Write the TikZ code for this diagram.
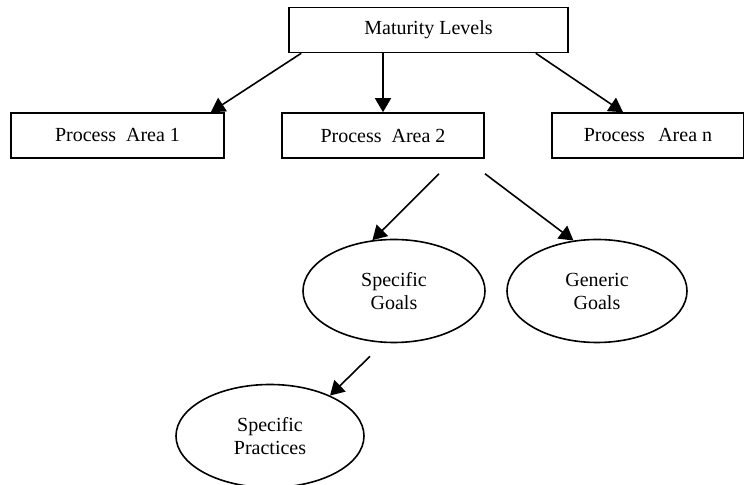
\documentclass[tikz,border=0pt]{standalone}
\usepackage{fontspec}
\setmainfont{Liberation Serif}
\usetikzlibrary{shapes.geometric,arrows.meta,calc}

\begin{document}
\begin{tikzpicture}[x=0.5pt,y=-0.5pt,
font=\fontsize{10}{11.5}\selectfont,
area/.style={%
draw,
line width=0.8pt,
inner sep=0pt,
minimum height=22.5pt,
},
goal/.style={%
draw,
ellipse,
line width=0.8pt,
inner sep=0pt,
align=center,
minimum height=51.5pt,
},
link/.style={%
-{Triangle[length=7pt,width=8pt]},
line width=0.8pt,
},
]
\useasboundingbox (0,0) rectangle (744,485);
%% Top level
\node[area,minimum width=139.5pt](ml)at(428.5,30){Maturity Levels};
%% Process areas
\node[area,minimum width=106.5pt](pa1)at(117.5,135.5){Process\ \ Area 1};
\node[area,minimum width=101pt](pa2)at(383,135.5){Process\ \ Area 2};
\node[area,minimum width=96pt](pan)at(648,135.5){Process\ \ \,Area n};
\draw[link] ($(ml.south west)+(13,0)$)--($(pa1.north east)+(-14,0)$);
\draw[link] (pa2.north |- ml.south)--(pa2.north);
\draw[link] ($(ml.south east)+(-33,0)$)--($(pan.north)+(-25,0)$);
%% Goals
\node[goal,minimum width=91pt](sg)at(394,291){Specific\\Goals};
\node[goal,minimum width=90pt](gg)at(597,291){Generic\\Goals};
\draw[link] ($(pa2.south)+(56,15)$)--(sg.113);
\draw[link] ($(pa2.south)+(102,15)$)--(gg.115);
%% Practices
\node[goal,minimum width=94pt](sp)at(270,436){Specific\\Practices};
\draw[link] ($(sg.south)+(-24,13)$)--(sp.34);
\end{tikzpicture}
\end{document}
